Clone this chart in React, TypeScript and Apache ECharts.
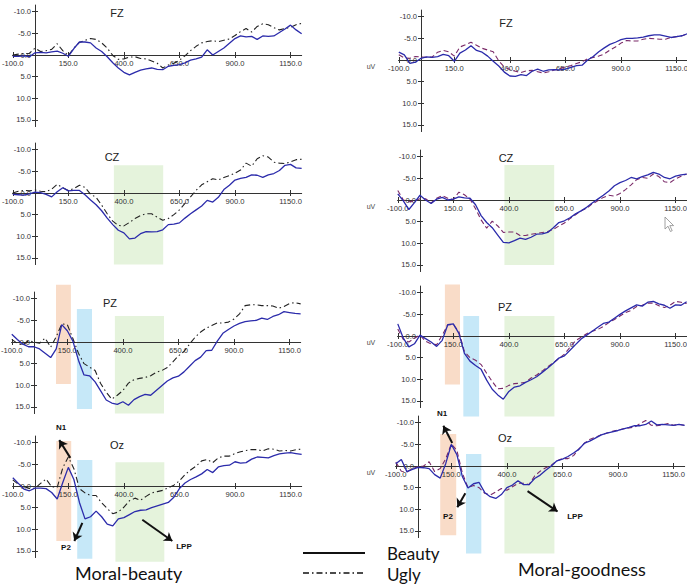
import React, { useEffect, useRef } from 'react';
import * as echarts from 'echarts';

// time points in ms
const times = [
  -100, -75, -50, -25, 0, 25, 50, 75, 100, 125, 150, 175, 200, 225, 250, 275, 300, 325, 350, 375,
  400, 425, 450, 475, 500, 525, 550, 575, 600, 625, 650, 675, 700, 725, 750, 775, 800, 825, 850, 875,
  900, 925, 950, 975, 1000, 1025, 1050, 1075, 1100, 1125, 1150, 1175, 1200,
];

const xTickValues = [-100, 150, 400, 650, 900, 1150];
const yTickValues = [-10, -5, 0, 5, 10, 15];

// ---- Moral-beauty (left column) ----
const mbFzBeauty = [0.3, 0.3, 0.2, 0.4, -0.5, -0.6, -0.5, -0.7, -0.9, -0.4, 0.3, -1.5, -3.0, -3.0, -2.8, -1.6, -0.8, 0.4, 1.8, 3.0, 4.0, 4.6, 4.0, 3.5, 3.2, 3.0, 3.3, 3.4, 2.6, 2.4, 2.2, 1.8, 1.2, 0.9, 0.5, -1.2, 0.0, -0.8, -1.6, -2.7, -3.8, -4.4, -4.2, -4.3, -3.6, -4.4, -4.3, -4.4, -5.2, -6.0, -6.9, -5.8, -4.9];
const mbFzUgly = [0.0, -0.2, -0.3, -0.4, -1.6, -0.8, -1.0, -1.3, -2.6, -1.0, 0.1, -1.6, -2.9, -3.4, -3.8, -3.6, -2.8, -1.6, 0.1, 1.0, 0.9, 0.5, 0.4, 0.8, 0.9, 1.4, 1.9, 3.0, 2.3, 1.9, 1.2, 0.2, -1.0, -2.0, -2.8, -3.1, -3.3, -3.1, -3.4, -3.7, -4.5, -5.4, -6.1, -5.3, -6.6, -7.2, -7.0, -6.3, -5.8, -6.1, -6.4, -7.0, -7.3];
const mbCzBeauty = [0.3, 0.4, 0.5, 0.2, -0.2, -0.1, 0.3, 0.9, -0.3, -1.2, -0.5, -0.6, -0.6, 0.4, 1.6, 2.7, 4.1, 5.8, 7.3, 8.6, 9.2, 10.6, 10.4, 9.4, 8.9, 9.0, 8.9, 8.5, 7.3, 7.2, 6.9, 5.8, 4.8, 3.9, 3.0, 1.7, 2.1, 1.0, -0.8, -1.8, -3.0, -3.4, -3.6, -4.2, -4.1, -3.6, -4.2, -4.5, -5.2, -6.4, -6.6, -5.8, -5.7];
const mbCzUgly = [0.0, -0.4, -0.6, -0.5, -0.7, -0.4, -0.3, -0.9, -2.0, -1.2, -0.6, -1.0, -1.8, -1.3, 0.3, 1.0, 2.8, 4.8, 6.5, 7.5, 7.6, 6.8, 5.9, 5.2, 4.8, 4.8, 5.6, 6.3, 5.9, 5.0, 3.9, 2.4, 0.9, -0.6, -1.9, -2.6, -3.3, -3.0, -3.6, -4.0, -4.6, -5.3, -6.9, -6.2, -7.9, -8.6, -8.3, -7.1, -6.9, -6.8, -7.2, -7.7, -7.8];
const mbPzBeauty = [-1.8, -0.6, 0.5, 1.1, 1.1, 1.6, 2.6, 3.6, 1.6, -4.0, -2.6, -0.2, 4.2, 7.6, 7.8, 9.2, 11.3, 13.4, 14.1, 14.4, 13.8, 14.6, 13.3, 12.6, 12.1, 12.3, 11.2, 10.1, 9.0, 8.3, 7.9, 6.9, 5.6, 4.3, 3.5, 2.0, 1.9, -0.2, -2.0, -2.9, -3.7, -4.3, -4.7, -4.9, -5.0, -5.5, -5.2, -5.9, -6.3, -7.0, -6.8, -6.6, -6.5];
const mbPzUgly = [-0.6, 0.3, 0.7, -0.3, 0.0, 0.3, -0.9, 1.2, -1.2, -4.2, -4.0, -0.8, 2.6, 5.0, 5.8, 6.6, 9.6, 11.6, 13.2, 12.3, 11.2, 9.5, 8.7, 8.4, 8.2, 7.8, 7.0, 6.6, 5.9, 4.6, 3.2, 2.2, 0.5, -1.1, -2.3, -3.2, -3.8, -4.4, -4.4, -4.6, -5.3, -6.5, -8.4, -8.6, -8.6, -8.4, -8.4, -8.3, -7.8, -8.2, -8.9, -9.1, -8.8];
const mbOzBeauty = [-1.9, -0.6, 0.7, 1.1, 0.5, 0.5, 0.6, 1.5, 3.0, -0.8, -4.3, -1.5, 3.8, 7.6, 7.1, 5.8, 7.1, 8.8, 9.2, 7.6, 7.3, 6.6, 5.9, 5.6, 5.5, 5.0, 4.6, 4.2, 3.8, 2.6, 0.6, -0.7, -1.5, -2.1, -2.8, -3.8, -3.1, -4.4, -4.7, -4.8, -5.6, -5.3, -5.4, -6.2, -6.7, -6.6, -6.5, -7.0, -7.4, -7.6, -7.7, -7.5, -7.3];
const mbOzUgly = [-1.4, -0.4, 0.1, 0.6, 0.5, -0.6, -1.6, 0.2, 0.3, -4.2, -6.7, -4.0, 0.6, 1.6, 2.2, 2.2, 3.9, 5.2, 6.4, 6.0, 4.9, 3.4, 2.8, 3.3, 2.4, 1.6, 1.3, 1.0, 0.4, -0.2, -1.2, -2.6, -3.7, -4.6, -5.8, -6.1, -5.4, -6.5, -6.9, -6.9, -7.5, -7.9, -8.2, -8.4, -8.4, -8.1, -8.6, -8.5, -8.1, -8.2, -8.1, -8.4, -8.5];

// ---- Moral-goodness (right column) ----
const mgFzBeauty = [-1.8, -1.2, 0.8, 0.5, -0.4, -0.7, -0.6, -0.8, -1.3, -1.0, 0.3, -1.6, -2.3, -3.3, -2.2, -1.8, -0.9, 0.3, 1.4, 2.8, 3.7, 3.8, 3.4, 3.6, 2.6, 2.1, 2.6, 2.3, 2.2, 2.3, 2.1, 1.7, 1.3, 1.2, 0.0, -0.8, -1.9, -2.8, -3.6, -4.1, -4.7, -5.0, -5.0, -5.1, -5.3, -5.6, -5.8, -5.8, -5.5, -5.2, -5.4, -5.6, -6.1];
const mgFzUgly = [-1.2, -0.5, -0.4, -0.8, -0.7, -0.6, -0.7, -1.8, -2.2, -1.9, -0.9, -3.0, -3.5, -4.1, -3.4, -2.7, -2.3, -1.9, 0.2, 1.6, 2.2, 2.6, 2.9, 2.5, 2.4, 2.7, 3.0, 2.7, 2.3, 2.0, 1.6, 1.3, 0.8, 0.4, -0.3, -0.6, -0.9, -1.4, -2.3, -3.0, -3.9, -4.5, -4.4, -4.4, -4.8, -5.0, -4.9, -4.8, -4.8, -5.2, -5.4, -5.6, -6.1];
const mgCzBeauty = [-1.4, 0.2, 2.2, 0.6, -1.1, 0.0, 0.8, -0.2, -0.6, 0.0, -0.2, -0.7, -0.5, -0.4, 1.1, 3.6, 5.2, 6.4, 8.1, 9.8, 9.9, 9.4, 8.8, 9.1, 8.6, 7.9, 7.8, 7.5, 6.4, 5.2, 4.8, 4.1, 3.2, 2.5, 1.7, 0.7, -0.2, -1.1, -2.1, -3.3, -4.0, -4.5, -5.2, -4.9, -5.4, -5.8, -6.4, -6.0, -5.2, -4.9, -5.5, -5.8, -6.0];
const mgCzUgly = [-2.2, 0.0, 0.4, 0.2, -0.3, -0.3, 0.7, -0.4, -1.0, -0.4, -0.1, -1.8, -1.2, -0.2, 2.0, 4.6, 6.5, 4.9, 6.0, 7.5, 7.4, 7.4, 8.2, 8.2, 7.9, 7.7, 7.5, 7.3, 6.8, 6.0, 5.3, 4.3, 3.4, 2.5, 1.9, 0.9, 0.2, -0.6, -1.1, -0.9, -1.5, -2.4, -3.5, -4.7, -5.2, -5.0, -6.0, -5.4, -4.2, -4.0, -4.9, -5.5, -6.0];
const mgPzBeauty = [-2.8, 0.5, 2.5, 1.8, -0.2, 0.6, 1.4, 2.4, 1.0, -2.6, -2.8, -0.6, 4.0, 5.8, 6.8, 7.7, 10.2, 12.3, 13.6, 14.6, 12.8, 11.8, 11.5, 10.7, 10.1, 9.4, 8.4, 7.4, 6.3, 5.1, 4.6, 3.3, 2.0, 0.7, -0.2, -1.1, -2.0, -2.9, -3.2, -4.1, -5.0, -5.8, -6.5, -7.2, -6.9, -7.8, -8.0, -7.4, -7.1, -6.4, -7.2, -7.1, -7.9];
const mgPzUgly = [-1.6, 0.8, 1.4, 0.5, -0.2, 1.2, 1.8, 2.0, -0.2, -2.6, -2.6, -1.0, 3.6, 5.0, 5.6, 6.6, 8.6, 10.5, 12.2, 12.1, 11.4, 11.0, 10.9, 10.7, 9.7, 9.0, 8.1, 7.1, 6.2, 5.2, 4.2, 2.6, 1.1, 0.3, -0.5, -1.1, -1.5, -2.2, -3.1, -3.8, -4.6, -5.4, -5.9, -6.8, -7.1, -7.6, -7.6, -7.0, -6.6, -7.1, -8.0, -7.8, -7.5];
const mgOzBeauty = [-0.5, -1.5, 1.3, 0.8, 0.3, 0.4, 0.6, 2.0, 2.8, -0.6, -5.0, -2.6, 2.5, 5.1, 4.1, 3.8, 6.1, 7.1, 7.5, 6.6, 5.0, 4.4, 3.4, 4.3, 4.3, 2.9, 2.1, 1.0, 0.0, -1.2, -1.6, -2.2, -3.0, -3.9, -5.3, -5.8, -6.5, -7.2, -7.6, -7.9, -8.2, -8.6, -8.9, -9.3, -9.3, -9.6, -10.4, -9.5, -9.6, -9.5, -9.4, -9.6, -9.4];
const mgOzUgly = [-0.9, 1.2, 1.4, 0.6, 0.2, 0.0, -1.0, 1.3, 0.6, -1.7, -5.1, -3.6, 1.7, 5.0, 4.5, 5.0, 6.3, 6.7, 6.0, 5.2, 5.6, 4.8, 4.0, 4.0, 4.3, 2.3, 1.2, 0.4, -0.2, -1.2, -1.7, -1.7, -2.4, -4.0, -5.3, -6.2, -6.7, -7.2, -7.6, -8.0, -8.3, -8.6, -8.8, -9.0, -9.8, -10.5, -9.4, -9.3, -9.5, -9.8, -9.4, -9.6, -9.4];

// ---- Shaded analysis windows: [startMs, endMs, topUv, bottomUv, colorIndex] ----
const mbCzWindows = [[355, 577, -6.4, 16.5, 2]];
const mbPzWindows = [[99, 166, -13.2, 9.7, 0], [193, 261, -7.6, 15.5, 1], [364, 585, -6.0, 16.5, 2]];
const mbOzWindows = [[96, 163, -10.4, 12.7, 0], [190, 258, -6.0, 16.8, 1], [362, 582, -5.5, 17.5, 2]];
const mgCzWindows = [[380, 604, -8.1, 15.0, 2]];
const mgPzWindows = [[112, 180, -11.9, 11.2, 0], [195, 266, -4.6, 18.6, 1], [380, 605, -4.6, 18.6, 2]];
const mgOzWindows = [[100, 172, -7.4, 16.0, 0], [216, 285, -2.8, 20.2, 1], [389, 614, -4.4, 20.2, 2]];

// ---- Component arrows: [fromMs, fromUv, toMs, toUv] ----
const mbOzArrows = [[159, -6.5, 109, -10.6], [213, 8.5, 177, 12.7], [483, 7.8, 618, 12.7]];
const mgOzArrows = [[154, -5.3, 114, -9.3], [213, 6.3, 177, 9.5], [493, 5.8, 628, 10.5]];

const windowColors = ['#f9dcc8', '#c6e8f8', '#e5f3dc'];
const beautyColor = '#2b2bab';
const PX_MS = 0.2222;
const PX_UV = 4.33;
const X_MIN = -100;
const X_MAX = 1200;
const Y_MIN = -11.5;
const Y_MAX = 16.5;
const FONT = "'Liberation Sans', Arial, sans-serif";
const BIG_FONT = "Lato, 'Open Sans', sans-serif";

const panels = [
  { name: 'FZ', x0: 35, y0: 55, beauty: mbFzBeauty, ugly: mbFzUgly, windows: [], arrows: [], right: false, title: [117, 13] },
  { name: 'CZ', x0: 35, y0: 193, beauty: mbCzBeauty, ugly: mbCzUgly, windows: mbCzWindows, arrows: [], right: false, title: [112, 157] },
  { name: 'PZ', x0: 34, y0: 342, beauty: mbPzBeauty, ugly: mbPzUgly, windows: mbPzWindows, arrows: [], right: false, title: [110, 303] },
  { name: 'Oz', x0: 35, y0: 486, beauty: mbOzBeauty, ugly: mbOzUgly, windows: mbOzWindows, arrows: mbOzArrows, right: false, title: [117, 445] },
  { name: 'FZ', x0: 421, y0: 60, beauty: mgFzBeauty, ugly: mgFzUgly, windows: [], arrows: [], right: true, title: [506, 23] },
  { name: 'CZ', x0: 420, y0: 200, beauty: mgCzBeauty, ugly: mgCzUgly, windows: mgCzWindows, arrows: [], right: true, title: [506, 158] },
  { name: 'PZ', x0: 420, y0: 336, beauty: mgPzBeauty, ugly: mgPzUgly, windows: mgPzWindows, arrows: [], right: true, title: [505, 307] },
  { name: 'Oz', x0: 418, y0: 466, beauty: mgOzBeauty, ugly: mgOzUgly, windows: mgOzWindows, arrows: mgOzArrows, right: true, title: [505, 438] },
];

function buildOption() {
  const grid: any[] = [];
  const xAxis: any[] = [];
  const yAxis: any[] = [];
  const series: any[] = [];
  const graphic: any[] = [];
  const axisColor = '#333';
  const labelStyle = { fontSize: 7.6, color: '#333', fontFamily: FONT, margin: 4, hideOverlap: false };

  panels.forEach((p, i) => {
    grid.push({
      left: p.x0 + X_MIN * PX_MS,
      top: p.y0 + Y_MIN * PX_UV,
      width: (X_MAX - X_MIN) * PX_MS,
      height: (Y_MAX - Y_MIN) * PX_UV,
      containLabel: false,
      outerBoundsMode: 'none',
    });
    const xi = xAxis.length;
    const yi = yAxis.length;
    // x axes placed on the zero line of the voltage axis (one ticks down, one ticks up)
    [
      { pos: 'bottom', offset: -Y_MAX * PX_UV, labels: true },
      { pos: 'top', offset: Y_MIN * PX_UV, labels: false },
    ].forEach((a) => {
      xAxis.push({
        gridIndex: i, type: 'value', min: X_MIN, max: X_MAX, position: a.pos, offset: a.offset, z: 1,
        axisLine: { show: true, onZero: false, lineStyle: { color: axisColor, width: 1 } },
        axisTick: { show: true, length: 3, customValues: xTickValues, lineStyle: { color: axisColor } },
        axisLabel: a.labels
          ? { show: true, customValues: xTickValues, formatter: (v: number) => v.toFixed(1), ...labelStyle }
          : { show: false },
        splitLine: { show: false },
      });
    });
    // y axes placed on the stimulus onset (0 ms)
    [
      { pos: 'left', offset: X_MIN * PX_MS, labels: true },
      { pos: 'right', offset: -X_MAX * PX_MS, labels: false },
    ].forEach((a) => {
      yAxis.push({
        gridIndex: i, type: 'value', min: Y_MIN, max: Y_MAX, inverse: true, position: a.pos, offset: a.offset, z: 1,
        axisLine: { show: true, onZero: false, lineStyle: { color: axisColor, width: 1 } },
        axisTick: { show: true, length: 3, customValues: yTickValues, lineStyle: { color: axisColor } },
        axisLabel: a.labels
          ? { show: true, customValues: yTickValues, formatter: (v: number) => v.toFixed(1), ...labelStyle }
          : { show: false },
        splitLine: { show: false },
      });
    });

    if (p.windows.length) {
      series.push({
        type: 'custom', xAxisIndex: xi, yAxisIndex: yi, z: 0.5, silent: true, clip: false,
        data: p.windows,
        encode: { x: [0, 1], y: [2, 3] },
        renderItem: (params: any, api: any) => {
          const a = api.coord([api.value(0), api.value(2)]);
          const b = api.coord([api.value(1), api.value(3)]);
          return {
            type: 'rect',
            shape: { x: Math.min(a[0], b[0]), y: Math.min(a[1], b[1]), width: Math.abs(b[0] - a[0]), height: Math.abs(b[1] - a[1]) },
            style: { fill: windowColors[api.value(4)] },
          };
        },
      });
    }

    const beautySeries: any = {
      type: 'line', xAxisIndex: xi, yAxisIndex: yi, z: 3, silent: true,
      showSymbol: false, symbol: 'none',
      data: times.map((t, k) => [t, p.beauty[k]]),
      lineStyle: { color: beautyColor, width: 1.3 },
    };
    if (p.arrows.length) {
      beautySeries.markLine = {
        silent: true, symbol: ['none', 'arrow'], symbolSize: 8,
        label: { show: false },
        lineStyle: { color: '#111', width: 2, type: 'solid' },
        data: p.arrows.map((a) => [{ coord: [a[0], a[1]] }, { coord: [a[2], a[3]] }]),
      };
    }
    series.push({
      type: 'line', xAxisIndex: xi, yAxisIndex: yi, z: 2, silent: true,
      showSymbol: false, symbol: 'none',
      data: times.map((t, k) => [t, p.ugly[k]]),
      lineStyle: p.right
        ? { color: '#7a2a68', width: 1.1, type: [5, 3] }
        : { color: '#222', width: 1.1, type: [6, 3, 1.5, 3] },
    });
    series.push(beautySeries);

    graphic.push({
      type: 'text', x: p.title[0], y: p.title[1], z: 10,
      style: { text: p.name, fontSize: 11, fontFamily: FONT, fill: '#222', align: 'center', verticalAlign: 'middle' },
    });
    if (p.right) {
      graphic.push({
        type: 'text', x: 371, y: p.y0 + 6, z: 10,
        style: { text: 'uV', fontSize: 7, fontFamily: FONT, fill: '#444', align: 'center', verticalAlign: 'middle' },
      });
    }
  });

  const compLabels = [
    ['N1', 61, 427], ['P2', 66, 547], ['LPP', 184, 546],
    ['N1', 442, 413], ['P2', 448, 516], ['LPP', 575, 516],
  ];
  compLabels.forEach((c) => {
    graphic.push({
      type: 'text', x: c[1], y: c[2], z: 10,
      style: { text: c[0], fontSize: 8, fontWeight: 'bold', fontFamily: FONT, fill: '#111', align: 'center', verticalAlign: 'middle' },
    });
  });

  // legend keys
  graphic.push({ type: 'line', z: 10, shape: { x1: 303, y1: 553, x2: 365, y2: 553 }, style: { stroke: '#111', lineWidth: 2 } });
  graphic.push({ type: 'line', z: 10, shape: { x1: 303, y1: 573, x2: 365, y2: 573 }, style: { stroke: '#111', lineWidth: 1.6, lineDash: [6, 3, 1.5, 3] } });
  graphic.push({ type: 'text', x: 387, y: 553, z: 10, style: { text: 'Beauty', fontSize: 17, fontFamily: BIG_FONT, fill: '#111', align: 'left', verticalAlign: 'middle' } });
  graphic.push({ type: 'text', x: 387, y: 574, z: 10, style: { text: 'Ugly', fontSize: 17, fontFamily: BIG_FONT, fill: '#111', align: 'left', verticalAlign: 'middle' } });
  graphic.push({ type: 'text', x: 75, y: 573, z: 10, style: { text: 'Moral-beauty', fontSize: 18, fontFamily: BIG_FONT, fill: '#111', align: 'left', verticalAlign: 'middle' } });
  graphic.push({ type: 'text', x: 518, y: 569, z: 10, style: { text: 'Moral-goodness', fontSize: 18, fontFamily: BIG_FONT, fill: '#111', align: 'left', verticalAlign: 'middle' } });

  // mouse pointer captured in the original screenshot
  graphic.push({
    type: 'polygon', z: 11,
    shape: { points: [[665, 217], [665, 229], [668, 226.2], [670.4, 231.5], [672.2, 230.7], [669.8, 225.6], [673.6, 225.6]] },
    style: { fill: '#ffffff', stroke: '#8a8a8a', lineWidth: 0.8 },
  });

  return {
    animation: false,
    backgroundColor: '#ffffff',
    grid, xAxis, yAxis, series, graphic,
  };
}

export default function App() {
  const ref = useRef<HTMLDivElement>(null);
  useEffect(() => {
    if (!ref.current) return;
    const chart = echarts.init(ref.current, undefined, { renderer: 'svg' });
    chart.setOption(buildOption() as any);
    return () => chart.dispose();
  }, []);
  return (
    <div
      ref={ref}
      style={{ position: 'absolute', left: 0, top: 0, width: 687, height: 586, background: '#fff' }}
    />
  );
}
